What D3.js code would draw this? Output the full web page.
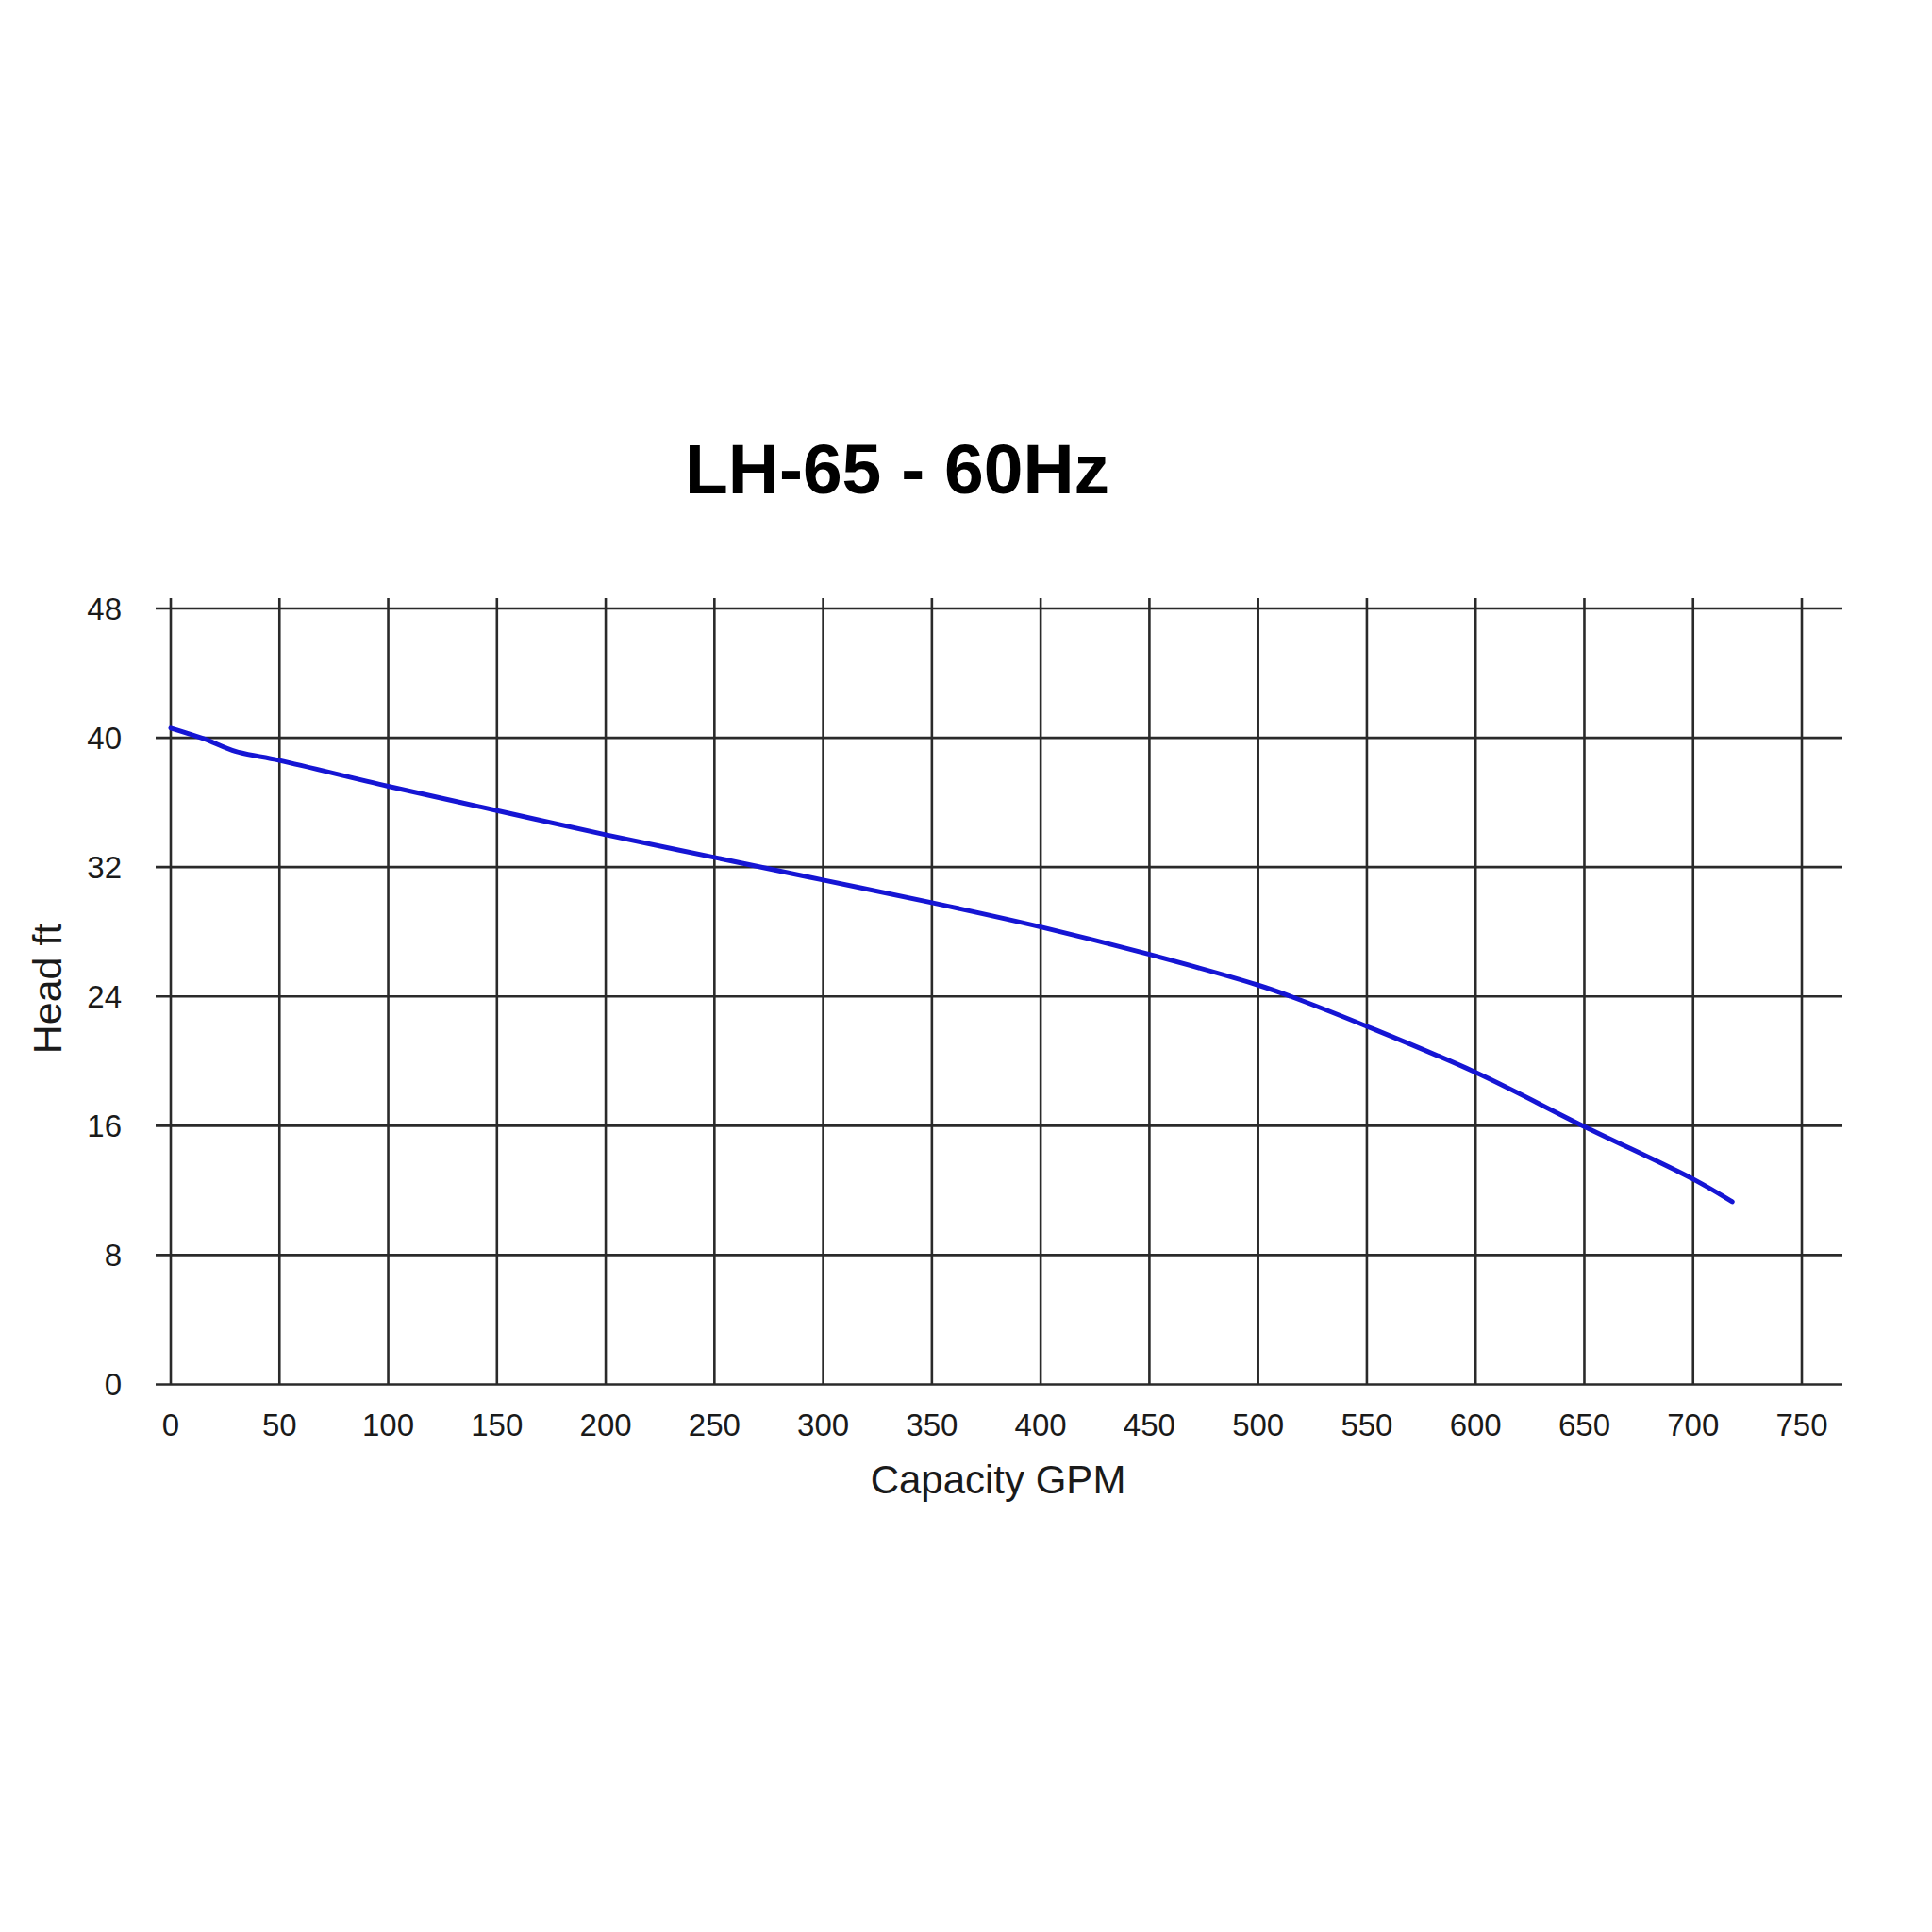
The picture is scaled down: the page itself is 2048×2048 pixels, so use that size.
<!DOCTYPE html>
<html>
<head>
<meta charset="utf-8">
<script src="https://cdn.jsdelivr.net/npm/d3@7"></script>
<style>
  html, body { margin: 0; padding: 0; background: #fff; }
  svg { display: block; }
</style>
</head>
<body>
<svg id="chart" width="2048" height="2048"></svg>
<script>
// ---- Data ----
const title = "LH-65 - 60Hz";
const xLabel = "Capacity GPM";
const yLabel = "Head ft";
const xTicks = [0, 50, 100, 150, 200, 250, 300, 350, 400, 450, 500, 550, 600, 650, 700, 750];
const yTicks = [0, 8, 16, 24, 32, 40, 48];
const capacity = [0, 15, 30, 50, 100, 150, 200, 250, 300, 350, 400, 450, 500, 515, 550, 600, 650, 700, 718];
const head     = [40.6, 39.95, 39.15, 38.6, 37.0, 35.5, 34.0, 32.6, 31.2, 29.8, 28.3, 26.6, 24.7, 24.0, 22.15, 19.3, 15.95, 12.7, 11.3];

// ---- Layout ----
const svg = d3.select("#chart");
const x = d3.scaleLinear().domain([0, 750]).range([181, 1910]);
const y = d3.scaleLinear().domain([0, 48]).range([1467.5, 645]);
const gridLeft = 165, gridRight = 1953, gridTop = 634;
const gridColor = "#2a2a2a";
const textColor = "#1a1a1a";
const font = "Arial, 'Liberation Sans', Helvetica, sans-serif";

// Title
svg.append("text")
  .attr("x", 951).attr("y", 523)
  .attr("text-anchor", "middle")
  .attr("font-family", font)
  .attr("font-weight", "bold")
  .attr("font-size", 75)
  .attr("fill", "#000")
  .text(title);

// Horizontal grid lines
svg.append("g").selectAll("line").data(yTicks).join("line")
  .attr("x1", gridLeft).attr("x2", gridRight)
  .attr("y1", d => y(d)).attr("y2", d => y(d))
  .attr("stroke", gridColor).attr("stroke-width", 2.6);

// Vertical grid lines
svg.append("g").selectAll("line").data(xTicks).join("line")
  .attr("x1", d => x(d)).attr("x2", d => x(d))
  .attr("y1", gridTop).attr("y2", y(0))
  .attr("stroke", gridColor).attr("stroke-width", 2.6);

// Y tick labels
svg.append("g").selectAll("text").data(yTicks).join("text")
  .attr("x", 129).attr("y", d => y(d))
  .attr("dy", "0.36em")
  .attr("text-anchor", "end")
  .attr("font-family", font)
  .attr("font-size", 33)
  .attr("fill", textColor)
  .text(d => d);

// X tick labels
svg.append("g").selectAll("text").data(xTicks).join("text")
  .attr("x", d => x(d)).attr("y", 1522)
  .attr("text-anchor", "middle")
  .attr("font-family", font)
  .attr("font-size", 33)
  .attr("fill", textColor)
  .text(d => d);

// Axis titles
svg.append("text")
  .attr("x", 1058).attr("y", 1583)
  .attr("text-anchor", "middle")
  .attr("font-family", font)
  .attr("font-size", 42)
  .attr("fill", textColor)
  .text(xLabel);

svg.append("text")
  .attr("transform", "translate(65,1048) rotate(-90)")
  .attr("text-anchor", "middle")
  .attr("font-family", font)
  .attr("font-size", 43)
  .attr("fill", textColor)
  .text(yLabel);

// Curve
const pts = capacity.map((c, i) => [c, head[i]]);
const line = d3.line()
  .x(d => x(d[0]))
  .y(d => y(d[1]))
  .curve(d3.curveCatmullRom.alpha(0.5));

svg.append("path")
  .datum(pts)
  .attr("d", line)
  .attr("fill", "none")
  .attr("stroke", "#1515d4")
  .attr("stroke-width", 5)
  .attr("stroke-linecap", "round")
  .attr("stroke-linejoin", "round");
</script>
</body>
</html>
